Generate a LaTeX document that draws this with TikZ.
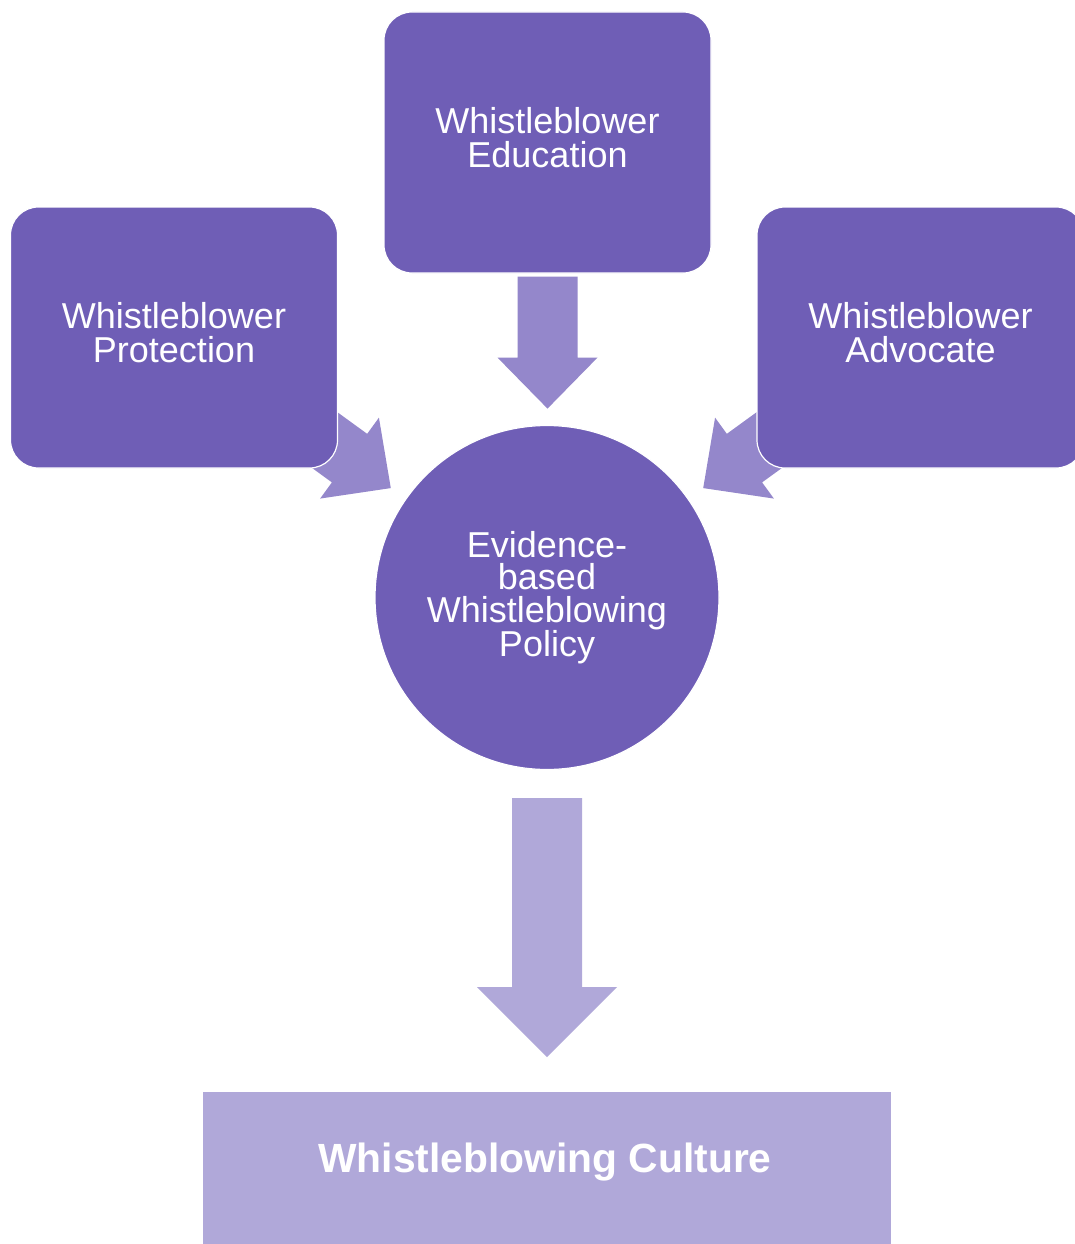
\documentclass[tikz,border=0pt]{standalone}
\usepackage{fontspec}
\setmainfont{Liberation Sans}
\usetikzlibrary{calc,backgrounds}
\definecolor{boxpurple}{RGB}{111,94,182}
\definecolor{arrowpurple}{RGB}{148,135,203}
\definecolor{palepurple}{RGB}{176,168,217}

\tikzset{
  % block arrow along the local x axis:
  % #1 shaft half width, #2 head half width, #3 shaft length, #4 head length
  pics/blockarrow/.style n args={4}{code={
    \path[pic actions] (0,-#1) -- (#3,-#1) -- (#3,-#2) -- (#3+#4,0)
      -- (#3,#2) -- (#3,#1) -- (0,#1) -- cycle;
  }},
}

\begin{document}
\begin{tikzpicture}[x=1pt,y=-1pt,
  pillar/.style={rectangle, rounded corners=28pt, fill=boxpurple, draw=white,
    line width=1.2pt, minimum width=327pt, minimum height=261pt, inner sep=0pt,
    text=white, align=center, font=\fontsize{36}{34}\selectfont, text depth=10pt},
  hub/.style={circle, fill=boxpurple, draw=white, line width=1.2pt,
    minimum size=344pt, inner sep=0pt, text=white, align=center,
    font=\fontsize{36}{32.5}\selectfont},
  feed/.style={fill=arrowpurple},
  result/.style={fill=palepurple},
]
\clip (0,0) rectangle (1075,1244);
\begin{pgfonlayer}{background}
  \fill[white] (0,0) rectangle (1075,1244);
\end{pgfonlayer}

% the three pillars and the policy hub
\node[pillar] (edu)  at (547.5,142.5) {Whistleblower\\Education};
\node[pillar] (prot) at (174,337.5)   {Whistleblower\\Protection};
\node[pillar] (adv)  at (920.5,337.5) {Whistleblower\\Advocate};
\node[hub]    (pol)  at (547,597.5)   {Evidence-\\based\\Whistleblowing\\Policy};

% outcome band
\node[rectangle, fill=palepurple, minimum width=688pt, minimum height=170pt,
      inner sep=0pt] (cult) at (547,1177) {};
\node[anchor=base, text=white, font=\fontsize{40.8}{44}\selectfont\bfseries]
      (cultlabel) at (545,1172) {Whistleblowing Culture};

% arrows feeding the hub, kept behind the pillars
\begin{pgfonlayer}{background}
  \pic[feed, rotate=-90]  at ($(edu.south)+(0,3)$)       {blockarrow={30}{50}{81}{51}};
  \pic[feed, rotate=-36]  at ($(pol.center)+(-263,-187)$) {blockarrow={30}{50}{81}{51}};
  \pic[feed, rotate=-144] at ($(pol.center)+(263,-187)$)  {blockarrow={30}{50}{81}{51}};
  \pic[result, rotate=-90] at ($(pol.south)+(0,28)$)     {blockarrow={35}{70}{189}{70}};
\end{pgfonlayer}
\end{tikzpicture}
\end{document}
